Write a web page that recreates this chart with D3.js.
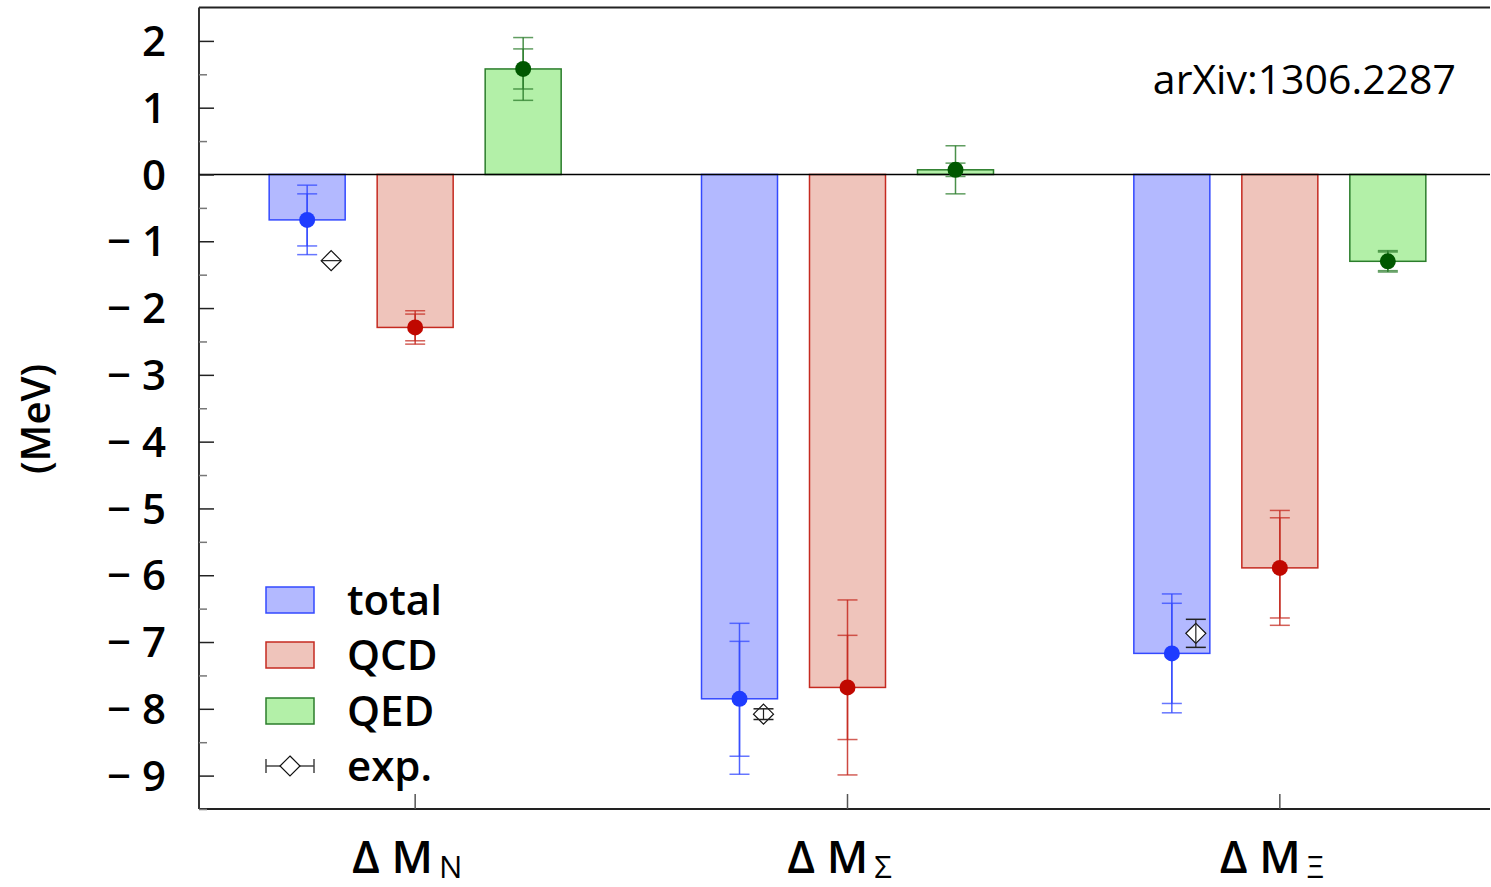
<!DOCTYPE html>
<html>
<head>
<meta charset="utf-8">
<script src="https://cdn.jsdelivr.net/npm/d3@7"></script>
<style>
body{margin:0;background:#fff;}
text{font-family:"Open Sans",sans-serif;}
</style>
</head>
<body>
<svg id="chart" width="1491" height="887"></svg>
<script>
// data (MeV)
categories = ["N","Σ","Ξ"];
series = ["total","QCD","QED"];
totalVals = [-0.68,-7.85,-7.17];
qcdVals = [-2.29,-7.68,-5.89];
qedVals = [1.58,0.07,-1.30];
totalStat = [0.39,0.86,0.75];
totalErr = [0.52,1.13,0.89];
qcdStat = [0.20,0.78,0.75];
qcdErr = [0.25,1.31,0.86];
qedStat = [0.30,0.10,0.14];
qedErr = [0.47,0.36,0.16];
expVals = [-1.29,-8.08,-6.87];
expErr = [0.0,0.08,0.21];
yTicks = [2,1,0,-1,-2,-3,-4,-5,-6,-7,-8,-9];

colors = {
	total:{fill:"#b3b9ff",stroke:"#3349ff",dot:"#1e3cff"},
	QCD:{fill:"#efc4bb",stroke:"#c52a20",dot:"#c00800"},
	QED:{fill:"#b3f0a8",stroke:"#2b7d2b",dot:"#005800"}
};

let svg = d3.select("#chart");
let pLeft = 199, pRight = 1490, pTop = 7.5, pBottom = 809;

let x = d3.scaleBand().domain(categories).range([pLeft,1496]).padding(0);
let xs = d3.scalePoint().domain(series).range([-108,108]);
let y = d3.scaleLinear().domain([-9.5,2.5]).range([pBottom,pTop]);
let barW = 76;

let rows = [];
categories.forEach(function(c,i){
	rows.push({cat:c,s:"total",v:totalVals[i],stat:totalStat[i],err:totalErr[i]});
	rows.push({cat:c,s:"QCD",v:qcdVals[i],stat:qcdStat[i],err:qcdErr[i]});
	rows.push({cat:c,s:"QED",v:qedVals[i],stat:qedStat[i],err:qedErr[i]});
});
function cx(d){ return x(d.cat)+x.bandwidth()/2+xs(d.s); }

// bars
svg.append("g").selectAll("rect").data(rows).join("rect")
	.attr("x",d=>cx(d)-barW/2)
	.attr("y",d=>Math.min(y(d.v),y(0)))
	.attr("width",barW)
	.attr("height",d=>Math.abs(y(d.v)-y(0)))
	.attr("fill",d=>colors[d.s].fill)
	.attr("stroke",d=>colors[d.s].stroke)
	.attr("stroke-width",1.5);

// frame + zero line
svg.append("line").attr("x1",pLeft).attr("x2",pRight).attr("y1",pTop).attr("y2",pTop).attr("stroke","#222").attr("stroke-width",2);
svg.append("line").attr("x1",pLeft).attr("x2",pRight).attr("y1",pBottom).attr("y2",pBottom).attr("stroke","#222").attr("stroke-width",2);
svg.append("line").attr("x1",pLeft).attr("x2",pLeft).attr("y1",pTop).attr("y2",pBottom).attr("stroke","#333").attr("stroke-width",2);
svg.append("line").attr("x1",pLeft).attr("x2",pRight).attr("y1",y(0)).attr("y2",y(0)).attr("stroke","#000").attr("stroke-width",1.5);

// y axis ticks (inside), minor ticks every 0.5
let yAxis = d3.axisRight(y).tickValues(yTicks).tickSize(15).tickFormat("");
let gy = svg.append("g").attr("transform","translate("+pLeft+",0)").call(yAxis);
gy.select(".domain").remove();
gy.selectAll("line").attr("stroke","#222").attr("stroke-width",1.5);
let minor = d3.range(-9.5,2.5,1);
let gym = svg.append("g").attr("transform","translate("+pLeft+",0)").call(d3.axisRight(y).tickValues(minor).tickSize(8).tickFormat(""));
gym.select(".domain").remove();
gym.selectAll("line").attr("stroke","#777").attr("stroke-width",1.5);

svg.append("g").selectAll("text").data(yTicks).join("text")
	.attr("x",166).attr("y",d=>y(d)).attr("dy","0.36em")
	.attr("text-anchor","end")
	.attr("font-size",42).attr("font-weight",600)
	.text(d=>d<0?"\u2212 "+Math.abs(d):d);

svg.append("text")
	.attr("transform","translate(50,419) rotate(-90)")
	.attr("text-anchor","middle")
	.attr("font-size",40).attr("font-weight",600)
	.text("(MeV)");

// x ticks (inside)
let gx = svg.append("g").attr("transform","translate(0,"+pBottom+")").call(d3.axisTop(x).tickSize(15).tickFormat(""));
gx.select(".domain").remove();
gx.selectAll("line").attr("stroke","#555").attr("stroke-width",1.5);

let xl = svg.append("g").selectAll("text").data(categories).join("text")
	.attr("x",d=>x(d)+x.bandwidth()/2-8).attr("y",873)
	.attr("text-anchor","middle")
	.attr("font-size",45).attr("font-weight",600);
xl.append("tspan").text("Δ M");
xl.append("tspan").attr("dx",6).attr("dy",5).attr("font-size",31).attr("font-weight",400).text(d=>d);

// error bars: outer (total) and inner (stat)
function errBars(g,d,e,col){
	let xc = cx(d);
	g.append("line").attr("x1",xc).attr("x2",xc).attr("y1",y(d.v+e)).attr("y2",y(d.v-e)).attr("stroke",col).attr("stroke-width",1.5).attr("opacity",0.85);
	[d.v+e,d.v-e].forEach(function(v){
		g.append("line").attr("x1",xc-10).attr("x2",xc+10).attr("y1",y(v)).attr("y2",y(v)).attr("stroke",col).attr("stroke-width",1.5).attr("opacity",0.75);
	});
}
let ge = svg.append("g");
rows.forEach(function(d){
	errBars(ge,d,d.err,colors[d.s].stroke);
	errBars(ge,d,d.stat,colors[d.s].stroke);
});
ge.selectAll("circle").data(rows).join("circle")
	.attr("cx",cx).attr("cy",d=>y(d.v)).attr("r",8)
	.attr("fill",d=>colors[d.s].dot);

// experiment
function diamond(g,xc,yc){
	g.append("path").attr("d","M"+xc+","+(yc-10)+"L"+(xc+10)+","+yc+"L"+xc+","+(yc+10)+"L"+(xc-10)+","+yc+"Z")
		.attr("fill","#fff").attr("stroke","#111").attr("stroke-width",1.2);
}
let gexp = svg.append("g");
categories.forEach(function(c,i){
	let xc = x(c)+x.bandwidth()/2+xs("total")+24;
	diamond(gexp,xc,y(expVals[i]));
	if(expErr[i]>0){
		let y1 = y(expVals[i]+expErr[i]), y2 = y(expVals[i]-expErr[i]);
		gexp.append("line").attr("x1",xc).attr("x2",xc).attr("y1",y1).attr("y2",y2).attr("stroke","#222").attr("stroke-width",1.2);
		[y1,y2].forEach(function(yy){
			gexp.append("line").attr("x1",xc-10).attr("x2",xc+10).attr("y1",yy).attr("y2",yy).attr("stroke","#222").attr("stroke-width",1.5);
		});
	} else {
		gexp.append("line").attr("x1",xc-10).attr("x2",xc+10).attr("y1",y(expVals[i])).attr("y2",y(expVals[i])).attr("stroke","#222").attr("stroke-width",1.2);
	}
});

// legend
let legY = [600,655,711,766];
let lg = svg.append("g");
series.forEach(function(s,i){
	lg.append("rect").attr("x",266).attr("y",legY[i]-13).attr("width",48).attr("height",26)
		.attr("fill",colors[s].fill).attr("stroke",colors[s].stroke).attr("stroke-width",1.5);
	lg.append("text").attr("x",347).attr("y",legY[i]+15).attr("font-size",42).attr("font-weight",600).text(s);
});
lg.append("line").attr("x1",266).attr("x2",314).attr("y1",legY[3]).attr("y2",legY[3]).attr("stroke","#444").attr("stroke-width",1.5);
[266,314].forEach(function(xx){
	lg.append("line").attr("x1",xx).attr("x2",xx).attr("y1",legY[3]-7).attr("y2",legY[3]+7).attr("stroke","#444").attr("stroke-width",1.5);
});
diamond(lg,290,legY[3]);
lg.append("text").attr("x",347).attr("y",legY[3]+15).attr("font-size",42).attr("font-weight",600).text("exp.");

svg.append("text").attr("x",1456).attr("y",94).attr("text-anchor","end")
	.attr("font-size",41).text("arXiv:1306.2287");
</script>
</body>
</html>
